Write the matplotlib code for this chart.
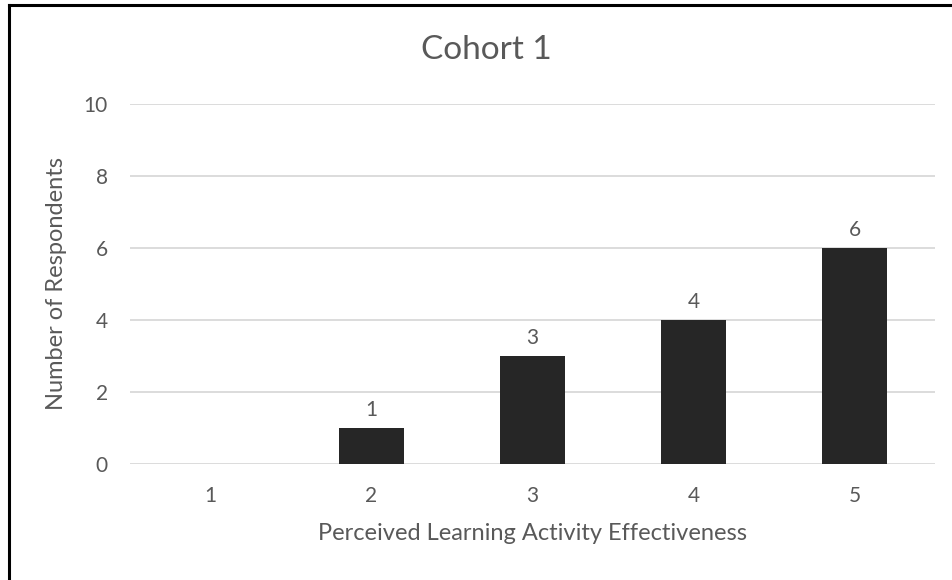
import matplotlib.pyplot as plt
from matplotlib.lines import Line2D

plt.rcParams['font.family'] = ['Lato', 'DejaVu Sans']

# data
ratings = ['1', '2', '3', '4', '5']
respondents = [0, 1, 3, 4, 6]
yticks = [0, 2, 4, 6, 8, 10]

text_col = '#595959'
bar_col = '#262626'
grid_col = '#d9d9d9'

fig = plt.figure(figsize=(9.52, 5.8), dpi=100)
ax = fig.add_axes([130 / 952, 1 - 464 / 580, 805 / 952, 360 / 580])

x = list(range(len(ratings)))
bars = ax.bar(x, respondents, width=0.4, color=bar_col, zorder=3)

# data labels (no label for the zero bar)
for xi, v in zip(x, respondents):
    if v > 0:
        ax.annotate(str(v), (xi, v), xytext=(0, 6), textcoords='offset points',
                    ha='center', va='bottom', fontsize=15, color=text_col)

ax.set_xlim(-0.5, len(ratings) - 0.5)
ax.set_ylim(0, 10)
ax.set_xticks(x)
ax.set_xticklabels(ratings)
ax.set_yticks(yticks)
ax.tick_params(axis='both', length=0, labelsize=15, labelcolor=text_col)
ax.tick_params(axis='x', pad=16)
ax.tick_params(axis='y', pad=16)

ax.grid(axis='y', color=grid_col, linewidth=1.3, zorder=0)
for s in ax.spines.values():
    s.set_visible(False)

fig.text(486 / 952, 1 - 50 / 580, 'Cohort 1', fontsize=24, color=text_col,
         ha='center', va='center')
ax.set_xlabel('Perceived Learning Activity Effectiveness', fontsize=17, color=text_col, labelpad=12)
ax.set_ylabel('Number of Respondents', fontsize=17, color=text_col, labelpad=12)

# outer frame: only the left and top edges show
fig.add_artist(Line2D([9 / 952, 9 / 952], [0, 1 - 5 / 580], color='black', linewidth=2.2,
                      transform=fig.transFigure))
fig.add_artist(Line2D([9 / 952, 1], [1 - 5 / 580, 1 - 5 / 580], color='black', linewidth=2.2,
                      transform=fig.transFigure))

fig.savefig('out.png', dpi=100)
